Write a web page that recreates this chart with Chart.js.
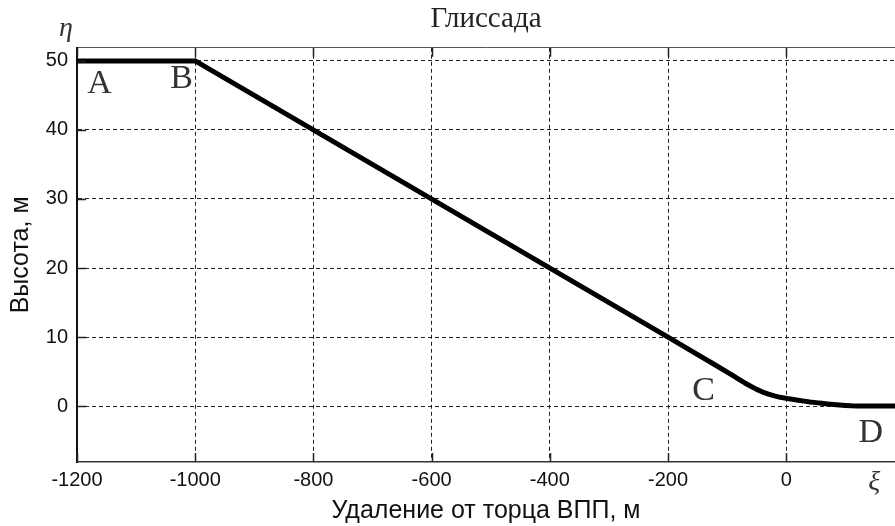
<!DOCTYPE html>
<html>
<head>
<meta charset="utf-8">
<script src="https://cdn.jsdelivr.net/npm/chart.js@4.4.1/dist/chart.umd.min.js"></script>
<style>
    html, body { margin: 0; padding: 0; background: #fff; overflow: hidden; }
    #wrap { width: 895px; height: 526px; position: relative; }
</style>
</head>
<body>
<div id="wrap"><canvas id="myChart"></canvas></div>
<script>
// Глиссада: расстояние от торца ВПП (м) и высота (м)
var distance = [-1200, -1000, -200, -160, -120, -100, -90, -80, -70, -60, -50, -40, -30, -20, -10,
    0, 10, 20, 30, 40, 50, 60, 70, 80, 90, 100, 110, 120, 140, 184];
var height = [50, 50, 10, 7.95, 5.95, 4.92, 4.4, 3.87, 3.35, 2.87, 2.42, 2.03, 1.72, 1.47, 1.27,
    1.12, 0.98, 0.85, 0.72, 0.6, 0.5, 0.4, 0.31, 0.23, 0.16, 0.1, 0.05, 0.02, 0, 0];
var xTicks = [-1200, -1000, -800, -600, -400, -200, 0];
var yTicks = [0, 10, 20, 30, 40, 50];
var pointNames = ['A', 'B', 'C', 'D'];

var tickFont = { family: 'Liberation Sans', size: 20, lineHeight: 1.2 };
var axisFont = { family: 'Liberation Sans', size: 25, lineHeight: 1.2 };

// внутренние засечки на осях, как в MATLAB
var innerTicks = {
    id: 'innerTicks',
    afterDatasetsDraw: function (chart) {
        var ctx = chart.ctx, a = chart.chartArea;
        var xs = chart.scales.x, ys = chart.scales.y;
        ctx.save();
        ctx.strokeStyle = '#222';
        ctx.lineWidth = 1.5;
        ctx.beginPath();
        xTicks.forEach(function (v) {
            var px = Math.round(xs.getPixelForValue(v)) + 0.5;
            ctx.moveTo(px, a.bottom); ctx.lineTo(px, a.bottom - 9);
            ctx.moveTo(px, a.top); ctx.lineTo(px, a.top + 9);
        });
        yTicks.forEach(function (v) {
            var py = Math.round(ys.getPixelForValue(v)) + 0.5;
            ctx.moveTo(a.left, py); ctx.lineTo(a.left + 9, py);
        });
        ctx.stroke();
        ctx.restore();
    }
};

// подписи точек A, B, C, D и осей
var letters = {
    id: 'letters',
    afterDraw: function (chart) {
        var ctx = chart.ctx, a = chart.chartArea;
        var xs = chart.scales.x, ys = chart.scales.y;
        var spots = [[-1162, 45.4], [-1023, 46.1], [-140, 0.83], [143, -5.27]];
        ctx.save();
        ctx.fillStyle = '#333';
        ctx.textAlign = 'center';
        ctx.textBaseline = 'alphabetic';
        ctx.font = '34px "Liberation Serif"';
        pointNames.forEach(function (n, i) {
            ctx.fillText(n, xs.getPixelForValue(spots[i][0]), ys.getPixelForValue(spots[i][1]));
        });
        ctx.font = 'italic 28px "Liberation Serif"';
        ctx.fillText('η', a.left - 11, a.top - 12);
        ctx.fillText('ξ', xs.getPixelForValue(149), a.bottom + 28);
        ctx.restore();
    }
};

document.addEventListener('DOMContentLoaded', function () {
    var ctx = document.getElementById('myChart').getContext('2d');
    var points = distance.map(function (d, i) { return { x: d, y: height[i] }; });

    new Chart(ctx, {
        type: 'line',
        data: {
            datasets: [{
                label: 'Глиссада',
                data: points,
                borderColor: '#000',
                borderWidth: 5,
                pointRadius: 0,
                tension: 0,
                fill: false,
                borderJoinStyle: 'round'
            }]
        },
        options: {
            responsive: true,
            maintainAspectRatio: false,
            animation: false,
            layout: { padding: 0 },
            plugins: {
                legend: { display: false },
                tooltip: { enabled: false },
                title: {
                    display: true,
                    text: 'Глиссада',
                    fullSize: false,
                    color: '#222',
                    font: { family: 'Liberation Serif', size: 29, weight: 'normal', lineHeight: 1.2 },
                    padding: { top: 2, bottom: 11 }
                }
            },
            scales: {
                x: {
                    type: 'linear',
                    position: 'bottom',
                    min: -1200,
                    max: 184,
                    afterBuildTicks: function (s) { s.ticks = xTicks.map(function (v) { return { value: v }; }); },
                    afterFit: function (s) { s.height = 64; },
                    ticks: {
                        color: '#111', font: tickFont, padding: 6, maxRotation: 0, autoSkip: false,
                        callback: function (v) { return String(v); }
                    },
                    grid: { color: '#222', lineWidth: 1, drawTicks: false },
                    border: { display: true, color: '#333', width: 1.5, dash: [4, 3] },
                    title: {
                        display: true,
                        text: 'Удаление от торца ВПП, м',
                        color: '#111',
                        font: axisFont,
                        padding: { top: 2, bottom: 0 }
                    }
                },
                x2: {
                    type: 'linear',
                    position: 'top',
                    min: -1200,
                    max: 184,
                    afterFit: function (s) { s.height = 0; },
                    ticks: { display: false },
                    grid: { drawOnChartArea: false, drawTicks: false },
                    border: { display: true, color: '#555', width: 1 }
                },
                y: {
                    type: 'linear',
                    min: -8.1,
                    max: 51.9,
                    afterBuildTicks: function (s) { s.ticks = yTicks.map(function (v) { return { value: v }; }); },
                    afterFit: function (s) { s.width = 77; },
                    ticks: {
                        color: '#111', font: tickFont, padding: 9,
                        callback: function (v) { return String(v); }
                    },
                    grid: { color: '#222', lineWidth: 1, drawTicks: false },
                    border: { display: true, color: '#111', width: 2, dash: [4, 3] },
                    title: {
                        display: true,
                        text: 'Высота, м',
                        color: '#111',
                        font: axisFont,
                        padding: { top: 6, bottom: 0 }
                    }
                }
            }
        },
        plugins: [innerTicks, letters]
    });
});
</script>
</body>
</html>
